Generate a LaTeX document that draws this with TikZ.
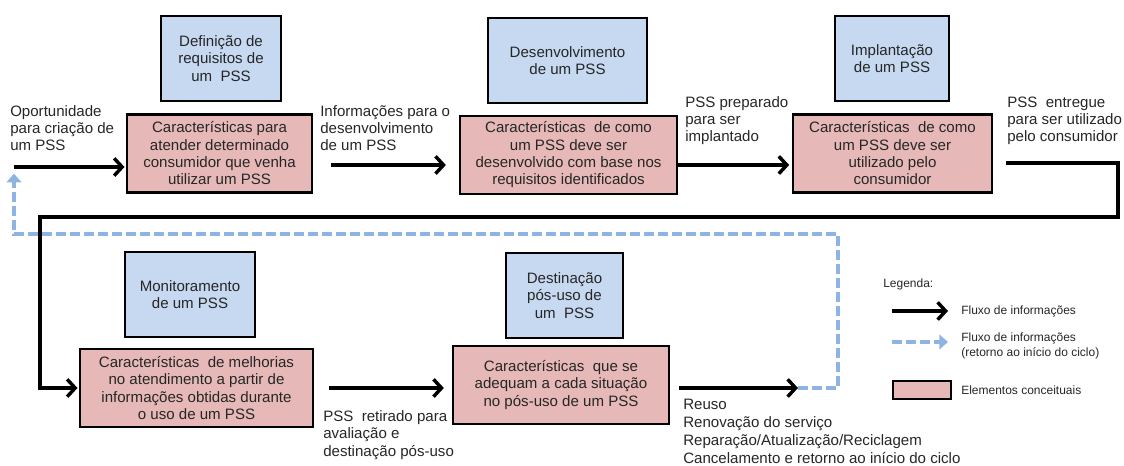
\documentclass[tikz,border=0pt]{standalone}
\usepackage{fontspec}
\setmainfont{Liberation Sans}
\usetikzlibrary{arrows.meta}
\definecolor{reqblue}{HTML}{C6D9F1}
\definecolor{charpink}{HTML}{E6B9B8}
\definecolor{retblue}{HTML}{8EB4E3}
\definecolor{txtgray}{HTML}{262626}

\begin{document}
\begin{tikzpicture}[x=0.75pt,y=-0.75pt,
		every node/.style={font=\fontsize{11.3}{13}\selectfont, text=txtgray},
		req box/.style={draw, line width=1.7pt, fill=reqblue, align=center, minimum height=63.75pt, inner sep=2pt},
		char box/.style={draw, line width=1.7pt, fill=charpink, align=center, minimum height=58.5pt, inner sep=2pt},
		lbl/.style={anchor=base west, align=left, inner sep=0pt},
		legend lbl/.style={anchor=west, align=left, inner sep=0pt, font=\fontsize{9}{11.5}\selectfont},
		flow/.style={->, >={Straight Barb[length=6pt,width=13pt]}, line width=2.6pt},
		back flow/.style={->, >={Triangle[length=6.5pt,width=11pt]}, draw=retblue, line width=2.4pt, dash pattern=on 7.5pt off 3pt}]
		      \useasboundingbox (0,0) rectangle (1124,466);

		      \node[req box, minimum width=90pt] (b1) at (221, 58.5) {Definição de\\requisitos de\\um \ PSS};
		      \node[req box, minimum width=119.25pt] (b2) at (567.5, 60.5) {Desenvolvimento\\de um PSS};
		      \node[req box, minimum width=85.5pt] (b3) at (892, 58.5) {Implantação\\de um PSS};
		      \node[req box, minimum width=97.5pt] (b4) at (190, 294.5) {Monitoramento\\de um PSS};
		      \node[req box, minimum width=87.75pt] (b5) at (564.5, 295.5) {Destinação\\pós-uso de\\um \ PSS};

		      \node[char box, minimum width=138.75pt] (p1) at (219.5, 153.5) {Características para\\atender determinado\\consumidor que venha\\utilizar um PSS};
		      \node[char box, minimum width=162.75pt] (p2) at (568.5, 155) {Características \ de como\\um PSS deve ser\\desenvolvido com base nos\\requisitos identificados};
		      \node[char box, minimum width=149.25pt] (p3) at (892.5, 153.5) {Características \ de como\\um PSS deve ser\\utilizado pelo\\consumidor};
		      \node[char box, minimum width=174.75pt] (p4) at (196.5, 388) {Características \ de melhorias\\no atendimento a partir de\\informações obtidas durante\\o uso de um PSS};
		      \node[char box, minimum width=162pt] (p5) at (561, 385) {Características \ que se\\adequam a cada situação\\no pós-uso de um PSS};

		      \node[lbl] (t1) at (10, 151) {Oportunidade\\para criação de\\um PSS};
		      \node[lbl] (t2) at (320, 151) {Informações para o\\desenvolvimento\\de um PSS};
		      \node[lbl] (t3) at (685, 142) {PSS preparado\\para ser\\implantado};
		      \node[lbl] (t4) at (1007, 142) {PSS \ entregue\\para ser utilizado\\pelo consumidor};
		      \node[lbl] (t5) at (323, 456) {PSS \ retirado para\\avaliação e\\destinação pós-uso};
		      \node[lbl, font=\fontsize{11.3}{13.5}\selectfont] (t6) at (683, 463) {Reuso\\Renovação do serviço\\Reparação/Atualização/Reciclagem\\Cancelamento e retorno ao início do ciclo};

		      \coordinate (start) at (14, 167);
		      \coordinate (rowA) at (0, 165);
		      \coordinate (rowB) at (0, 163);
		      \coordinate (rowC) at (0, 388);
		      \coordinate (loopR) at (1118, 217);
		      \coordinate (loopL) at (40, 217);
		      \coordinate (out) at (798, 388);
		      \coordinate (retR) at (838, 234);
		      \coordinate (retL) at (14, 234);

		      \draw[back flow, shorten >=5pt] (out) -| (retR) -- (retL) -- (start);

		      \draw[flow, shorten >=1pt] (start) -- (start -| p1.west);
		      \draw[flow, shorten <=13.5pt, shorten >=9.75pt] (p1.east |- rowA) -- (p2.west |- rowA);
		      \draw[flow, shorten >=2pt] (p2.east |- rowA) -- (p3.west |- rowA);
		      \draw[flow, shorten <=9.75pt, shorten >=1pt] (p3.east |- rowB) -| (loopR) -- (loopL) |- (p4.west |- rowC);
		      \draw[flow, shorten <=11pt, shorten >=6pt] (p4.east |- rowC) -- (p5.west |- rowC);
		      \draw[flow, shorten <=6.75pt] (p5.east |- rowC) -- (out);

		      \node[lbl, font=\fontsize{9}{11.5}\selectfont] (lgtitle) at (883, 288) {Legenda:};
		      \coordinate (lgA) at (892, 311);
		      \coordinate (lgB) at (948, 311);
		      \coordinate (lgC) at (892, 342);
		      \coordinate (lgD) at (948, 342);
		      \draw[flow] (lgA) -- (lgB);
		      \draw[back flow] (lgC) -- (lgD);
		      \node[draw, line width=1pt, fill=charpink, minimum width=43.5pt, minimum height=13.5pt, inner sep=0pt] (lgbox) at (922, 390) {};
		      \node[legend lbl] (lg1) at (961, 311) {Fluxo de informações};
		      \node[legend lbl] (lg2) at (961, 346) {Fluxo de informações\\(retorno ao início do ciclo)};
		      \node[legend lbl] (lg3) at (961, 390) {Elementos conceituais};
	      \end{tikzpicture}
\end{document}
